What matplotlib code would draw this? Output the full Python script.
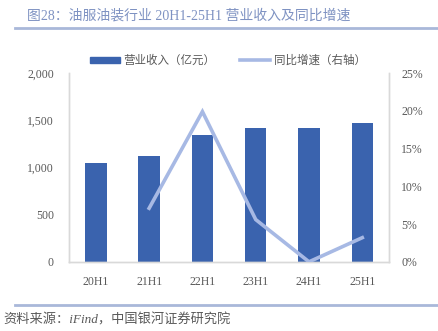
import matplotlib.pyplot as plt
from matplotlib.ticker import FuncFormatter
from matplotlib.lines import Line2D
from matplotlib.patches import Patch

plt.rcParams['font.family'] = ['Liberation Serif', 'Noto Sans CJK SC', 'DejaVu Sans']

periods = ['20H1', '21H1', '22H1', '23H1', '24H1', '25H1']
revenue = [1049, 1120, 1343, 1420, 1420, 1467]          # 亿元
yoy_periods = ['21H1', '22H1', '23H1', '24H1', '25H1']
yoy_growth = [7.1, 19.9, 5.6, 0.0, 3.2]                   # %

bar_color = '#3a63ae'
line_color = '#a7b9e4'
text_gray = '#595959'
spine_gray = '#d9d9d9'

fig = plt.figure(figsize=(4.38, 3.31), dpi=100)
ax = fig.add_axes([0.158, 0.209, 0.730, 0.570])

x = list(range(len(periods)))
ax.bar(x, revenue, width=0.4, color=bar_color, zorder=2)
ax.set_xlim(-0.5, 5.5)
ax.set_ylim(0, 2000)
ax.set_yticks([0, 500, 1000, 1500, 2000])
ax.yaxis.set_major_formatter(FuncFormatter(lambda v, p: f'{int(v):,}'))
ax.set_xticks(x)
ax.set_xticklabels(periods)

ax2 = ax.twinx()
xi = [periods.index(p) for p in yoy_periods]
ax2.plot(xi, yoy_growth, color=line_color, lw=2.6, solid_joinstyle='miter', zorder=3)
ax2.set_ylim(0, 25)
ax2.set_yticks([0, 5, 10, 15, 20, 25])
ax2.yaxis.set_major_formatter(FuncFormatter(lambda v, p: f'{int(v)}%'))

for a in (ax, ax2):
    a.tick_params(length=0, labelsize=8.5, colors=text_gray)
    a.spines['top'].set_visible(False)
    for s in ('left', 'right', 'bottom'):
        a.spines[s].set_color(spine_gray)
        a.spines[s].set_linewidth(1.0)
ax.tick_params(axis='y', pad=11)
ax.tick_params(axis='x', pad=10)
ax2.tick_params(axis='y', pad=9)

handles = [Patch(color=bar_color), Line2D([], [], color=line_color, lw=2.6)]
fig.legend(handles, ['营业收入（亿元）', '同比增速（右轴）'],
           loc='center', bbox_to_anchor=(0.52, 0.817), ncol=2, frameon=False,
           labelcolor=text_gray, handlelength=2.6, handleheight=0.5,
           handletextpad=0.3, columnspacing=2.2,
           prop={'family': ['Noto Sans CJK SC'], 'size': 8.3})

# title and rule lines
fig.text(0.062, 0.953, '图28：油服油装行业 20H1-25H1 营业收入及同比增速',
         fontsize=10, color='#7e92c2', ha='left', va='center')
fig.add_artist(Line2D([0.034, 1.0], [0.915, 0.915], color='#a9b8d9', lw=2))
fig.add_artist(Line2D([0.034, 1.0], [0.078, 0.078], color='#a9b8d9', lw=2))
fig.text(0.008, 0.033, '资料来源：iFind，中国银河证券研究院', fontsize=9.5,
         color=text_gray, style='italic', ha='left', va='center')

fig.savefig('out.png', dpi=100)
